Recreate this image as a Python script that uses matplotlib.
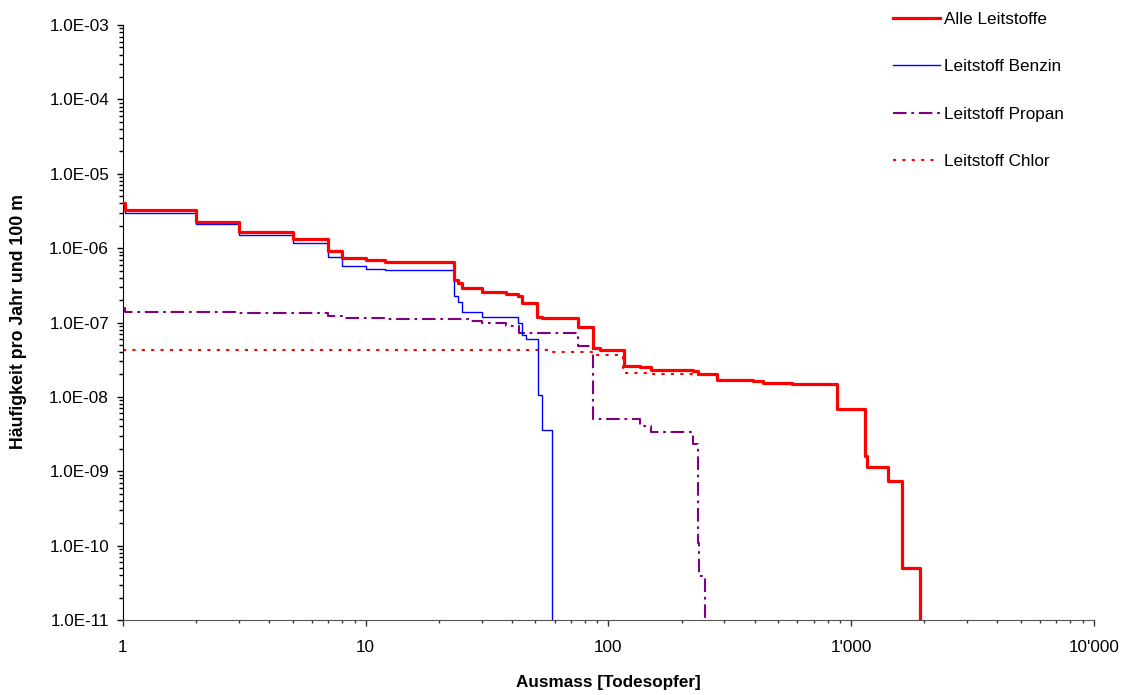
import math
import matplotlib
matplotlib.use("Agg")
import matplotlib.pyplot as plt
from matplotlib.ticker import FuncFormatter, LogLocator, FixedLocator

# ---- data ----
alle_x = [1, 1.02, 2, 3, 5, 7, 8, 10, 12, 23, 24, 25, 30, 38, 42.5, 44, 51, 53, 75, 86, 92,
          116, 135, 150, 223, 234, 279, 395, 434, 569, 871, 1140, 1164, 1421, 1614, 1919]
alle_y = [4.0e-6, 3.25e-6, 2.27e-6, 1.67e-6, 1.33e-6, 9.1e-7, 7.4e-7, 6.9e-7, 6.6e-7, 3.7e-7,
          3.4e-7, 2.9e-7, 2.58e-7, 2.45e-7, 2.24e-7, 1.82e-7, 1.2e-7, 1.14e-7, 8.8e-8, 4.5e-8,
          4.3e-8, 2.6e-8, 2.5e-8, 2.3e-8, 2.2e-8, 2.0e-8, 1.7e-8, 1.62e-8, 1.56e-8, 1.48e-8,
          6.8e-9, 1.6e-9, 1.13e-9, 7.4e-10, 5.0e-11, 1e-11]

benzin_x = [1, 1.02, 2, 3, 5, 7, 8, 10, 12, 23, 24, 25, 30, 42.2, 44, 45.6, 51.1, 53.1, 58.3]
benzin_y = [4.0e-6, 3.0e-6, 2.1e-6, 1.5e-6, 1.17e-6, 7.6e-7, 5.8e-7, 5.2e-7, 5.1e-7, 2.24e-7,
            1.9e-7, 1.4e-7, 1.17e-7, 1.0e-7, 6.8e-8, 6.0e-8, 1.07e-8, 3.6e-9, 1e-11]

propan_x = [1, 1.02, 3, 7, 8, 12, 27, 30, 32.6, 37.8, 42.7, 75, 86, 135, 150, 222, 234, 236, 251]
propan_y = [1.55e-7, 1.40e-7, 1.33e-7, 1.23e-7, 1.14e-7, 1.1e-7, 1.06e-7, 1.0e-7, 9.8e-8, 9.0e-8,
            7.3e-8, 4.8e-8, 5.1e-9, 4.1e-9, 3.4e-9, 2.3e-9, 1.1e-10, 3.85e-11, 1e-11]

chlor_x = [1, 58.3, 90, 115, 143, 230]
chlor_y = [4.28e-8, 4.07e-8, 3.7e-8, 2.1e-8, 2.0e-8, 2.0e-8]

labels = ["Alle Leitstoffe", "Leitstoff Benzin", "Leitstoff Propan", "Leitstoff Chlor"]
x_ticks = [1, 10, 100, 1000, 10000]
x_ticklabels = ["1", "10", "100", "1'000", "10'000"]

plt.rcParams['font.family'] = ['Liberation Sans', 'DejaVu Sans']
FS = 12.3

fig = plt.figure(figsize=(11.25, 6.95), dpi=100)
ax = fig.add_axes([0.1093, 0.1079, 0.9724 - 0.1093, 0.964 - 0.1079])

ax.plot(chlor_x, chlor_y, drawstyle='steps-post', color='#FF0000', lw=1.5,
        linestyle=(0, (1.5, 3)), label=labels[3], zorder=2)
ax.plot(propan_x, propan_y, drawstyle='steps-post', color='#800080', lw=1.5,
        linestyle=(0, (6.5, 2.3, 1.3, 2.3)), label=labels[2], zorder=3)
ax.plot(benzin_x, benzin_y, drawstyle='steps-post', color='#0000FF', lw=1.0,
        label=labels[1], zorder=4)
ax.plot(alle_x, alle_y, drawstyle='steps-post', color='#FF0000', lw=2.3,
        label=labels[0], zorder=5)

ax.set_xscale('log')
ax.set_yscale('log')
ax.set_xlim(1, 10000)
ax.set_ylim(1e-11, 1e-3)

ax.xaxis.set_major_locator(FixedLocator(x_ticks))
ax.set_xticklabels(x_ticklabels)
ax.xaxis.set_minor_locator(LogLocator(base=10, subs=range(2, 10), numticks=20))
ax.yaxis.set_major_locator(LogLocator(base=10, numticks=20))
ax.yaxis.set_minor_locator(LogLocator(base=10, subs=range(2, 10), numticks=20))
ax.yaxis.set_major_formatter(FuncFormatter(lambda v, p: "1.0E-%02d" % round(-math.log10(v))))
ax.yaxis.set_minor_formatter(FuncFormatter(lambda v, p: ""))
ax.xaxis.set_minor_formatter(FuncFormatter(lambda v, p: ""))

for s in ['top', 'right']:
    ax.spines[s].set_visible(False)
ax.spines['left'].set_color('black')
ax.spines['bottom'].set_color('#555555')

ax.tick_params(axis='y', which='major', direction='out', length=4, width=1,
               labelsize=FS, pad=6)
ax.tick_params(axis='y', which='minor', direction='out', length=3, width=1)
ax.tick_params(axis='x', which='major', direction='out', length=4, width=1,
               labelsize=FS, pad=10.7, color='#333333')
ax.tick_params(axis='x', which='minor', direction='out', length=2.5, width=1, color='#333333')

ax.set_xlabel("Ausmass [Todesopfer]", fontsize=FS, fontweight='bold', va='center')
ax.xaxis.set_label_coords(0.4995, (620 - 682) / 595)
ax.set_ylabel("Häufigkeit pro Jahr und 100 m", fontsize=FS + 0.5, fontweight='bold', va='center')
ax.yaxis.set_label_coords((19 - 123) / 971, 0.5025)

h, l = ax.get_legend_handles_labels()
order = [3, 2, 1, 0]
fig.legend([h[i] for i in order], [l[i] for i in order], loc='upper left',
           bbox_to_anchor=(0.7938, 0.983), frameon=False, fontsize=FS,
           handlelength=2.73, handletextpad=0.25, labelspacing=1.9,
           borderpad=0, borderaxespad=0)

fig.savefig("out.png", dpi=100)
